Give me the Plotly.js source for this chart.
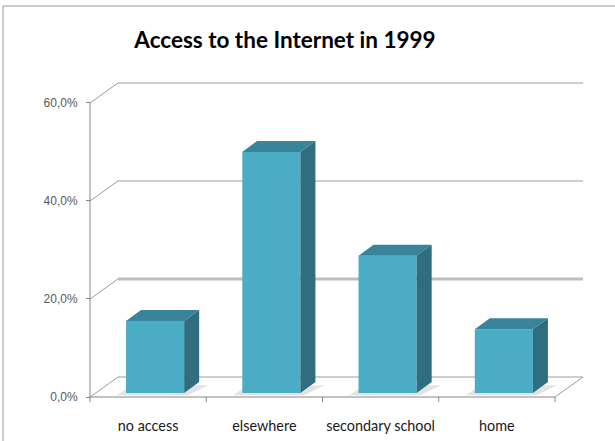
<!DOCTYPE html>
<html>
<head>
<meta charset="utf-8">
<script src="https://cdn.plot.ly/plotly-3.0.1.min.js"></script>
<style>html,body{margin:0;padding:0;background:#fff;}#chart{width:615px;height:441px;}</style>
</head>
<body>
<div id="chart"></div>
<script>
// ---- data ----
const categories = ["no access", "elsewhere", "secondary school", "home"];
const values = [14.7, 49.2, 28.0, 13.0];
const tickVals = [0, 20, 40, 60];
const tickText = ["0,0%", "20,0%", "40,0%", "60,0%"];

// ---- geometry / style (not data) ----
const xPos = categories.map((c, i) => i);
const barW = 0.5, barOff = -0.19;      // front face of bar
const dX = 0.129, dY = 2.245;          // bar depth (x units, % units)
const wallX = 0.241, wallY = 4.08;     // back wall offset
const frontCol = "#4BACC6", topCol = "#38849A", sideCol = "#306D7F";
const gridCol = "#9c9c9c", axisCol = "#868686";

const traces = [];
traces.push({
  type: "bar", x: xPos, y: values, width: barW, offset: barOff,
  marker: {color: frontCol, line: {width: 0}},
  xaxis: "x", yaxis: "y2", hoverinfo: "skip", showlegend: false
});
xPos.forEach((x, i) => {
  const v = values[i];
  const l = x + barOff, r = x + barOff + barW;
  traces.push({
    type: "scatter", mode: "lines", fill: "toself", fillcolor: topCol,
    line: {width: 0, color: topCol},
    x: [l, r, r + dX, l + dX, l], y: [v, v, v + dY, v + dY, v],
    xaxis: "x", yaxis: "y2", hoverinfo: "skip", showlegend: false
  });
  traces.push({
    type: "scatter", mode: "lines", fill: "toself", fillcolor: sideCol,
    line: {width: 0, color: sideCol},
    x: [r, r + dX, r + dX, r, r], y: [0, dY, v + dY, v, 0],
    xaxis: "x", yaxis: "y2", hoverinfo: "skip", showlegend: false
  });
});

const shapes = [];
// back wall gridlines + left diagonals
tickVals.forEach(t => {
  const thick = (t === 20);
  shapes.push({type: "line", xref: "x", yref: "y", layer: "below",
    x0: -0.5 + wallX, x1: 3.5 + wallX, y0: t + wallY, y1: t + wallY,
    line: {color: thick ? "#bdbdbd" : gridCol, width: thick ? 3 : 1}});
  shapes.push({type: "line", xref: "x", yref: "y", layer: "below",
    x0: -0.5, x1: -0.5 + wallX, y0: t, y1: t + wallY,
    line: {color: gridCol, width: 1}});
});
// floor right diagonal
shapes.push({type: "line", xref: "x", yref: "y", layer: "below",
  x0: 3.5, x1: 3.5 + wallX, y0: 0, y1: wallY, line: {color: gridCol, width: 1}});
// front axis line
shapes.push({type: "line", xref: "x", yref: "y", x0: -0.5, x1: 3.5, y0: 0, y1: 0,
  line: {color: axisCol, width: 1}});
// vertical axis line
shapes.push({type: "line", xref: "x", yref: "y", x0: -0.5, x1: -0.5, y0: 0, y1: 60,
  line: {color: axisCol, width: 1}});
// category boundary ticks
for (let b = -0.5; b <= 3.5; b += 1) {
  shapes.push({type: "line", xref: "x", yref: "y", x0: b, x1: b, y0: 0, y1: -1.05,
    line: {color: axisCol, width: 1}});
}
// soft shadows on the floor
xPos.forEach(x => {
  const l = x + barOff, r = x + barOff + barW;
  shapes.push({type: "path", xref: "x", yref: "y2", layer: "below",
    path: `M ${l - 0.08} -0.45 L ${r + 0.03} -0.45 L ${r + dX + 0.08} 1.6 L ${l + 0.05} 1.6 Z`,
    fillcolor: "rgba(0,0,0,0.11)", line: {width: 0}});
});
// chart-area border
shapes.push({type: "rect", xref: "paper", yref: "paper",
  x0: -0.1607, x1: 1.08, y0: -0.2, y1: 1.2277,
  line: {color: "#999999", width: 1}, fillcolor: "rgba(0,0,0,0)"});

const layout = {
  width: 615, height: 441,
  margin: {l: 84, r: 27, t: 80, b: 36, pad: 0},
  paper_bgcolor: "#ffffff", plot_bgcolor: "rgba(0,0,0,0)",
  showlegend: false,
  title: {text: "<b>Access to the Internet in 1999</b>", x: 0.4634, xanchor: "center",
    xref: "container", y: 0.909, yanchor: "middle", yref: "container",
    font: {family: "Lato, 'Open Sans', sans-serif", size: 22.5, color: "#000000"}},
  xaxis: {range: [-0.5516, 3.7839], showgrid: false, zeroline: false, showline: false,
    tickmode: "array", tickvals: xPos, ticktext: categories, ticks: "",
    tickfont: {family: "Lato, sans-serif", size: 14.4, color: "#1a1a1a"},
    ticklabelstandoff: 11, fixedrange: true},
  yaxis: {range: [-1.633, 64.69], showgrid: false, zeroline: false, showline: false,
    anchor: "free", position: 0.0119,
    tickmode: "array", tickvals: tickVals, ticktext: tickText,
    ticks: "outside", ticklen: 4, tickcolor: axisCol, tickwidth: 1,
    tickfont: {family: "'Liberation Sans', Arial, sans-serif", size: 12, color: "#595959"},
    ticklabelstandoff: 6, fixedrange: true},
  yaxis2: {range: [-2.449, 63.874], overlaying: "y", visible: false, fixedrange: true},
  shapes: shapes
};

Plotly.newPlot("chart", traces, layout, {staticPlot: true, displayModeBar: false});
</script>
</body>
</html>
